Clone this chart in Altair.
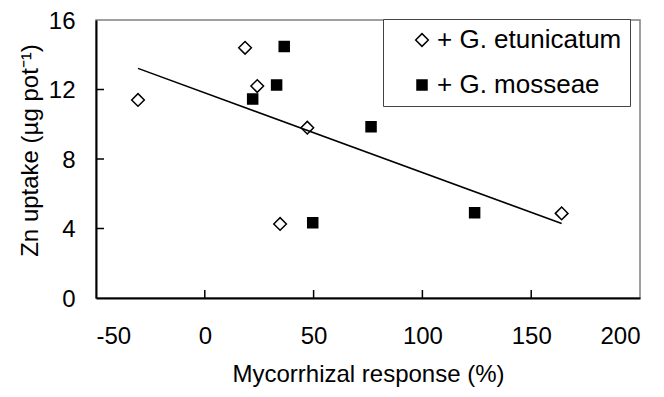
import altair as alt
import pandas as pd

# Data
series_names = ["+ G. etunicatum", "+ G. mosseae"]

etun_x = [-30.7, 18.5, 24.1, 47.1, 34.6, 164.0]
etun_y = [11.4, 14.4, 12.2, 9.8, 4.26, 4.87]

moss_x = [36.5, 33.0, 22.0, 76.4, 49.6, 124.0]
moss_y = [14.47, 12.26, 11.45, 9.86, 4.33, 4.91]

x_ticks = [-50, 0, 50, 100, 150, 200]
y_ticks = [0, 4, 8, 12, 16]

FONT = "Liberation Sans"
W, H = 544, 278

df = pd.DataFrame({
    "x": etun_x + moss_x,
    "y": etun_y + moss_y,
    "series": [series_names[0]] * len(etun_x) + [series_names[1]] * len(moss_x),
})

xscale = alt.Scale(domain=[-50, 200], nice=False, zero=False)
yscale = alt.Scale(domain=[0, 16], nice=False, zero=False)

xaxis = alt.Axis(
    title="Mycorrhizal response (%)",
    values=x_ticks, ticks=False, grid=False,
    labelExpr="replace(datum.label, '\u2212', '-')",
    labelPadding=26, titlePadding=14,
)
yaxis = alt.Axis(
    title="Zn uptake (µg pot⁻¹)",
    values=y_ticks, ticks=False, grid=False,
    labelPadding=21, labelOffset=1,
    titleAngle=270, titleX=-59, titleY=130,
    titleBaseline="alphabetic", titleAlign="center",
)

legend = alt.Legend(
    title=None,
    orient="none",
    legendX=287,
    legendY=-1,
    direction="vertical",
    strokeColor="#444444",
    fillColor="white",
    padding=8,
    symbolOffset=18,
    labelOffset=2,
    rowPadding=19,
    labelFontSize=26,
    labelFont=FONT,
    labelColor="black",
    labelLimit=400,
    symbolStrokeWidth=1.5,
)

points = alt.Chart(df).mark_point(filled=False, opacity=1, strokeWidth=1.5).encode(
    x=alt.X("x:Q", scale=xscale, axis=xaxis),
    y=alt.Y("y:Q", scale=yscale, axis=yaxis),
    shape=alt.Shape("series:N", scale=alt.Scale(domain=series_names, range=["diamond", "square"]), legend=legend),
    fill=alt.Fill("series:N", scale=alt.Scale(domain=series_names, range=["white", "black"]), legend=legend),
    stroke=alt.Stroke("series:N", scale=alt.Scale(domain=series_names, range=["black", "black"]), legend=legend),
    size=alt.Size("series:N", scale=alt.Scale(domain=series_names, range=[160, 100]), legend=legend),
)

trend = alt.Chart(df).transform_regression("x", "y").mark_line(color="black", strokeWidth=1.5).encode(
    x=alt.X("x:Q", scale=xscale, axis=xaxis),
    y=alt.Y("y:Q", scale=yscale, axis=yaxis),
)

xt = alt.Chart(pd.DataFrame({"x": x_ticks[1:-1]})).mark_rule(color="black", strokeWidth=1.5).encode(
    x=alt.X("x:Q", scale=xscale, axis=xaxis),
    y=alt.value(H),
    y2=alt.value(H - 8),
)

yt = alt.Chart(pd.DataFrame({"y": y_ticks[1:-1]})).mark_rule(color="black", strokeWidth=1.5).encode(
    y=alt.Y("y:Q", scale=yscale, axis=yaxis),
    x=alt.value(0),
    x2=alt.value(8),
)

chart = alt.layer(points, trend, xt, yt).properties(
    width=W, height=H,
    background="white",
    autosize=alt.AutoSizeParams(type="none"),
    padding={"left": 88, "top": 12, "right": 16, "bottom": 95},
).configure_view(
    stroke="#808080", strokeWidth=1.5,
).configure_axis(
    domainColor="black", domainWidth=2,
    labelFont=FONT, labelFontSize=24, labelColor="black",
    titleFont=FONT, titleFontSize=24, titleColor="black", titleFontWeight="normal",
)

chart.save("out.html", embed_options={"renderer": "svg", "actions": False})
